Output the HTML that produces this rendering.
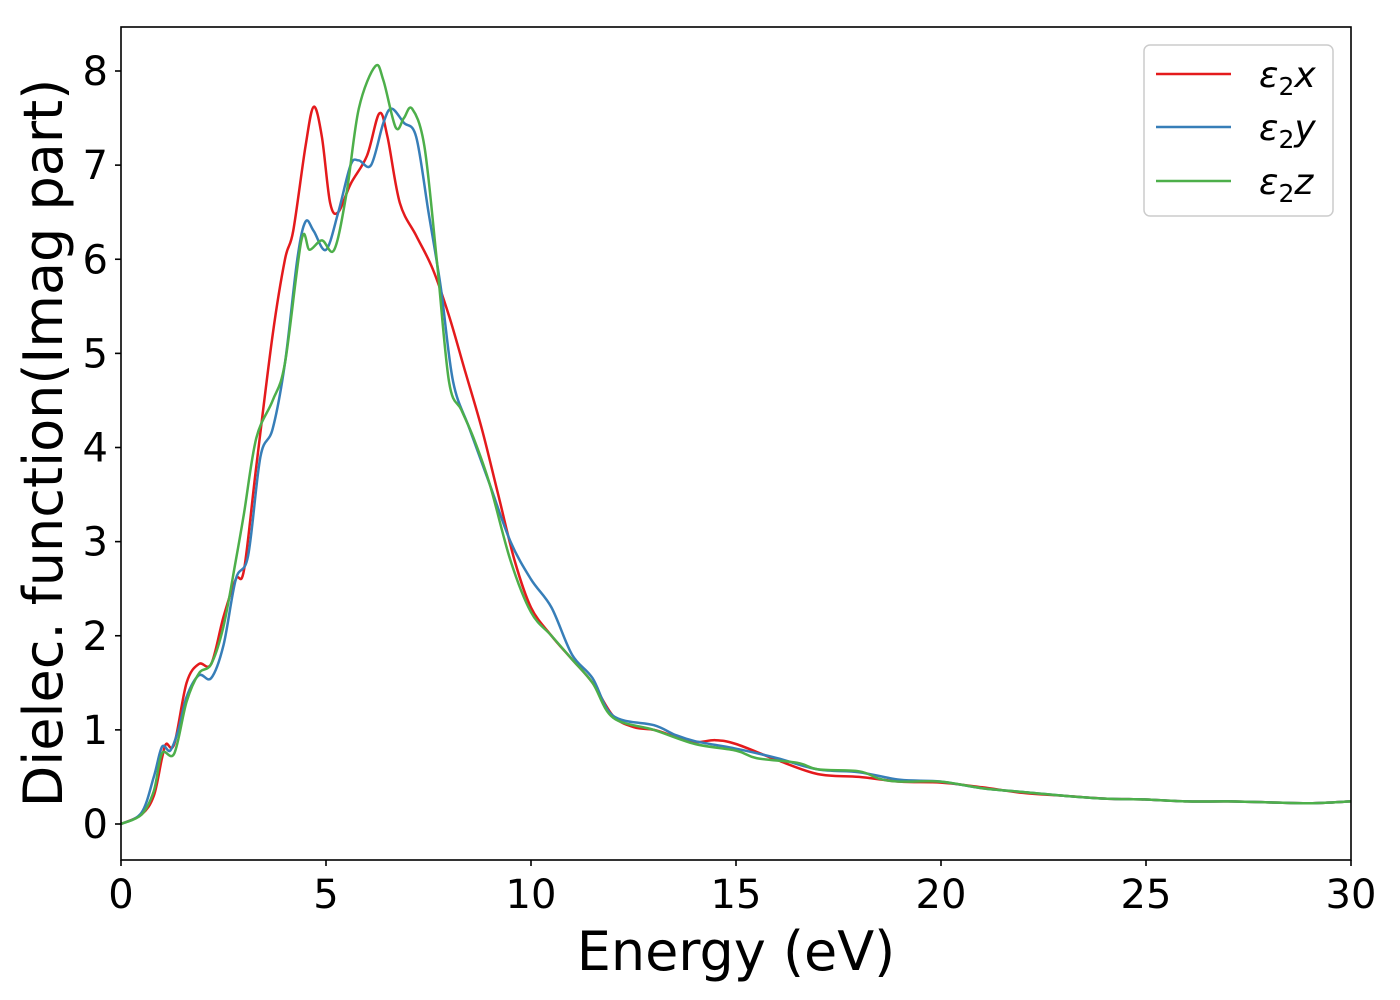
<!DOCTYPE html>
<html><head><meta charset="utf-8">
<style>
html,body{margin:0;padding:0;background:#fff;}
svg{display:block;font-family:"DejaVu Sans","Liberation Sans",sans-serif;}
</style></head>
<body>
<svg id="chart" width="1400" height="1000" viewBox="0 0 1400 1000" xmlns="http://www.w3.org/2000/svg">
  <rect x="0" y="0" width="1400" height="1000" fill="#fff"/>
  <g id="series"></g>
  <rect x="121" y="27" width="1230" height="833" fill="none" stroke="#000" stroke-width="1.6"/>
  <g id="xticks"></g>
  <g id="yticks"></g>
  <text x="736" y="970" font-size="54" text-anchor="middle">Energy (eV)</text>
  <text transform="translate(62,443) rotate(-90)" font-size="54" text-anchor="middle">Dielec. function(Imag part)</text>
  <g>
    <rect x="1144" y="45" width="189" height="171" rx="6" fill="#fff" fill-opacity="0.8" stroke="#ccc" stroke-width="1.5"/>
    <line x1="1156" y1="74" x2="1231" y2="74" stroke="#e41a1c" stroke-width="2.5"/>
    <text x="1259" y="87" font-size="36" font-style="italic">ε<tspan font-style="normal" font-size="25" dy="8">2</tspan><tspan dy="-8">x</tspan></text>
    <line x1="1156" y1="127" x2="1231" y2="127" stroke="#377eb8" stroke-width="2.5"/>
    <text x="1259" y="140" font-size="36" font-style="italic">ε<tspan font-style="normal" font-size="25" dy="8">2</tspan><tspan dy="-8">y</tspan></text>
    <line x1="1156" y1="181" x2="1231" y2="181" stroke="#4daf4a" stroke-width="2.5"/>
    <text x="1259" y="194" font-size="36" font-style="italic">ε<tspan font-style="normal" font-size="25" dy="8">2</tspan><tspan dy="-8">z</tspan></text>
  </g>
</svg>
<script>
const xTickLabels = [0, 5, 10, 15, 20, 25, 30];
const yTickLabels = [0, 1, 2, 3, 4, 5, 6, 7, 8];
const energyX = [0,0.5,0.8,1.0,1.1,1.3,1.6,1.9,2.2,2.5,2.8,3.0,3.3,3.7,4.0,4.2,4.5,4.7,4.9,5.1,5.3,5.6,6.0,6.3,6.5,6.8,7.2,7.6,8.0,8.4,8.8,9.2,9.6,10,10.5,11,11.5,12,12.5,13,13.5,14,14.5,15,16,17,18,19,20,21,22,23,24,25,26,27,28,29,30];
const eps2x = [0,0.1,0.3,0.7,0.85,0.85,1.5,1.7,1.7,2.2,2.6,2.7,3.8,5.2,6.0,6.3,7.2,7.62,7.3,6.6,6.5,6.8,7.1,7.55,7.3,6.6,6.25,5.9,5.4,4.8,4.2,3.5,2.8,2.3,2.0,1.75,1.5,1.15,1.03,1.0,0.93,0.87,0.89,0.85,0.68,0.53,0.5,0.45,0.44,0.39,0.33,0.3,0.27,0.26,0.24,0.24,0.23,0.22,0.24];
const energyY = [0,0.5,0.8,1.0,1.2,1.4,1.6,1.9,2.2,2.5,2.8,3.1,3.4,3.7,4.0,4.3,4.5,4.7,5.0,5.3,5.6,5.8,6.1,6.4,6.6,6.9,7.2,7.5,7.8,8.1,8.5,9.0,9.5,10,10.5,11,11.5,12,13,13.5,14,15,16,17,18,19,20,21,22,23,24,25,26,27,28,29,30];
const eps2y = [0,0.12,0.5,0.82,0.78,1.0,1.35,1.58,1.55,1.9,2.6,2.85,3.9,4.2,4.9,6.0,6.4,6.3,6.1,6.5,7.0,7.05,7.0,7.45,7.6,7.45,7.3,6.5,5.7,4.7,4.2,3.6,3.0,2.6,2.3,1.8,1.55,1.15,1.05,0.95,0.88,0.8,0.7,0.58,0.55,0.47,0.45,0.38,0.34,0.3,0.27,0.26,0.24,0.24,0.23,0.22,0.24];
const energyZ = [0,0.5,0.8,1.0,1.3,1.6,1.9,2.2,2.5,2.8,3.0,3.3,3.7,4.0,4.4,4.6,4.9,5.2,5.5,5.8,6.2,6.4,6.7,6.9,7.1,7.4,7.7,8.0,8.3,8.6,9.0,9.5,10,10.5,11,11.5,12,13,14,15,15.5,16.5,17,18,18.5,19,20,21,22,23,24,25,26,27,28,29,30];
const eps2z = [0,0.1,0.35,0.75,0.75,1.3,1.6,1.7,2.1,2.8,3.3,4.1,4.5,4.9,6.2,6.1,6.2,6.1,6.7,7.6,8.05,7.9,7.4,7.5,7.6,7.2,6.0,4.7,4.4,4.1,3.6,2.8,2.25,2.0,1.75,1.5,1.13,1.0,0.85,0.78,0.7,0.65,0.58,0.56,0.48,0.45,0.45,0.38,0.34,0.3,0.27,0.26,0.24,0.24,0.23,0.22,0.24];

const NS = "http://www.w3.org/2000/svg";
const X0 = 121, X1 = 1351, XMIN = 0, XMAX = 30;
const Y0 = 824, Y8 = 71;
function xScale(v){ return X0 + (v - XMIN) / (XMAX - XMIN) * (X1 - X0); }
function yScale(v){ return Y0 - v / 8 * (Y0 - Y8); }

function pathFor(xs, ys){
  const p = xs.map((x,i)=>[xScale(x), yScale(ys[i])]);
  let d = "M" + p[0][0].toFixed(1) + "," + p[0][1].toFixed(1);
  for (let i = 0; i < p.length - 1; i++){
    const a = p[Math.max(0,i-1)], b = p[i], c = p[i+1], e = p[Math.min(p.length-1,i+2)];
    const c1x = b[0] + (c[0]-a[0])/6, c1y = b[1] + (c[1]-a[1])/6;
    const c2x = c[0] - (e[0]-b[0])/6, c2y = c[1] - (e[1]-b[1])/6;
    d += " C" + c1x.toFixed(1)+","+c1y.toFixed(1)+" "+c2x.toFixed(1)+","+c2y.toFixed(1)+" "+c[0].toFixed(1)+","+c[1].toFixed(1);
  }
  return d;
}

const g = document.getElementById("series");
const sx = document.createElementNS(NS, "path");


sx.setAttribute("d", pathFor(energyX, eps2x));
sx.setAttribute("fill", "none"); sx.setAttribute("stroke", "#e41a1c"); sx.setAttribute("stroke-width", "2.5");
g.appendChild(sx);
const sy = document.createElementNS(NS, "path");


sy.setAttribute("d", pathFor(energyY, eps2y));
sy.setAttribute("fill", "none"); sy.setAttribute("stroke", "#377eb8"); sy.setAttribute("stroke-width", "2.5");
g.appendChild(sy);
const sz = document.createElementNS(NS, "path");


sz.setAttribute("d", pathFor(energyZ, eps2z));
sz.setAttribute("fill", "none"); sz.setAttribute("stroke", "#4daf4a"); sz.setAttribute("stroke-width", "2.5");
g.appendChild(sz);

const xt = document.getElementById("xticks");
xTickLabels.forEach(v => {
  const x = xScale(v);
  const ln = document.createElementNS(NS, "line");
  
  
  ln.setAttribute("x1", x); ln.setAttribute("x2", x); ln.setAttribute("y1", 860); ln.setAttribute("y2", 866);
  ln.setAttribute("stroke", "#000"); ln.setAttribute("stroke-width", "1.6");
  xt.appendChild(ln);
  const t = document.createElementNS(NS, "text");
  
  
  t.setAttribute("x", x); t.setAttribute("y", 908);
  t.setAttribute("font-size", "40"); t.setAttribute("text-anchor", "middle");
  t.textContent = v;
  xt.appendChild(t);
});
const yt = document.getElementById("yticks");
yTickLabels.forEach(v => {
  const y = yScale(v);
  const ln = document.createElementNS(NS, "line");
  
  
  ln.setAttribute("x1", 115); ln.setAttribute("x2", 121); ln.setAttribute("y1", y); ln.setAttribute("y2", y);
  ln.setAttribute("stroke", "#000"); ln.setAttribute("stroke-width", "1.6");
  yt.appendChild(ln);
  const t = document.createElementNS(NS, "text");
  
  
  t.setAttribute("x", 108); t.setAttribute("y", y + 14);
  t.setAttribute("font-size", "40"); t.setAttribute("text-anchor", "end");
  t.textContent = v;
  yt.appendChild(t);
});
</script>
</body></html>
